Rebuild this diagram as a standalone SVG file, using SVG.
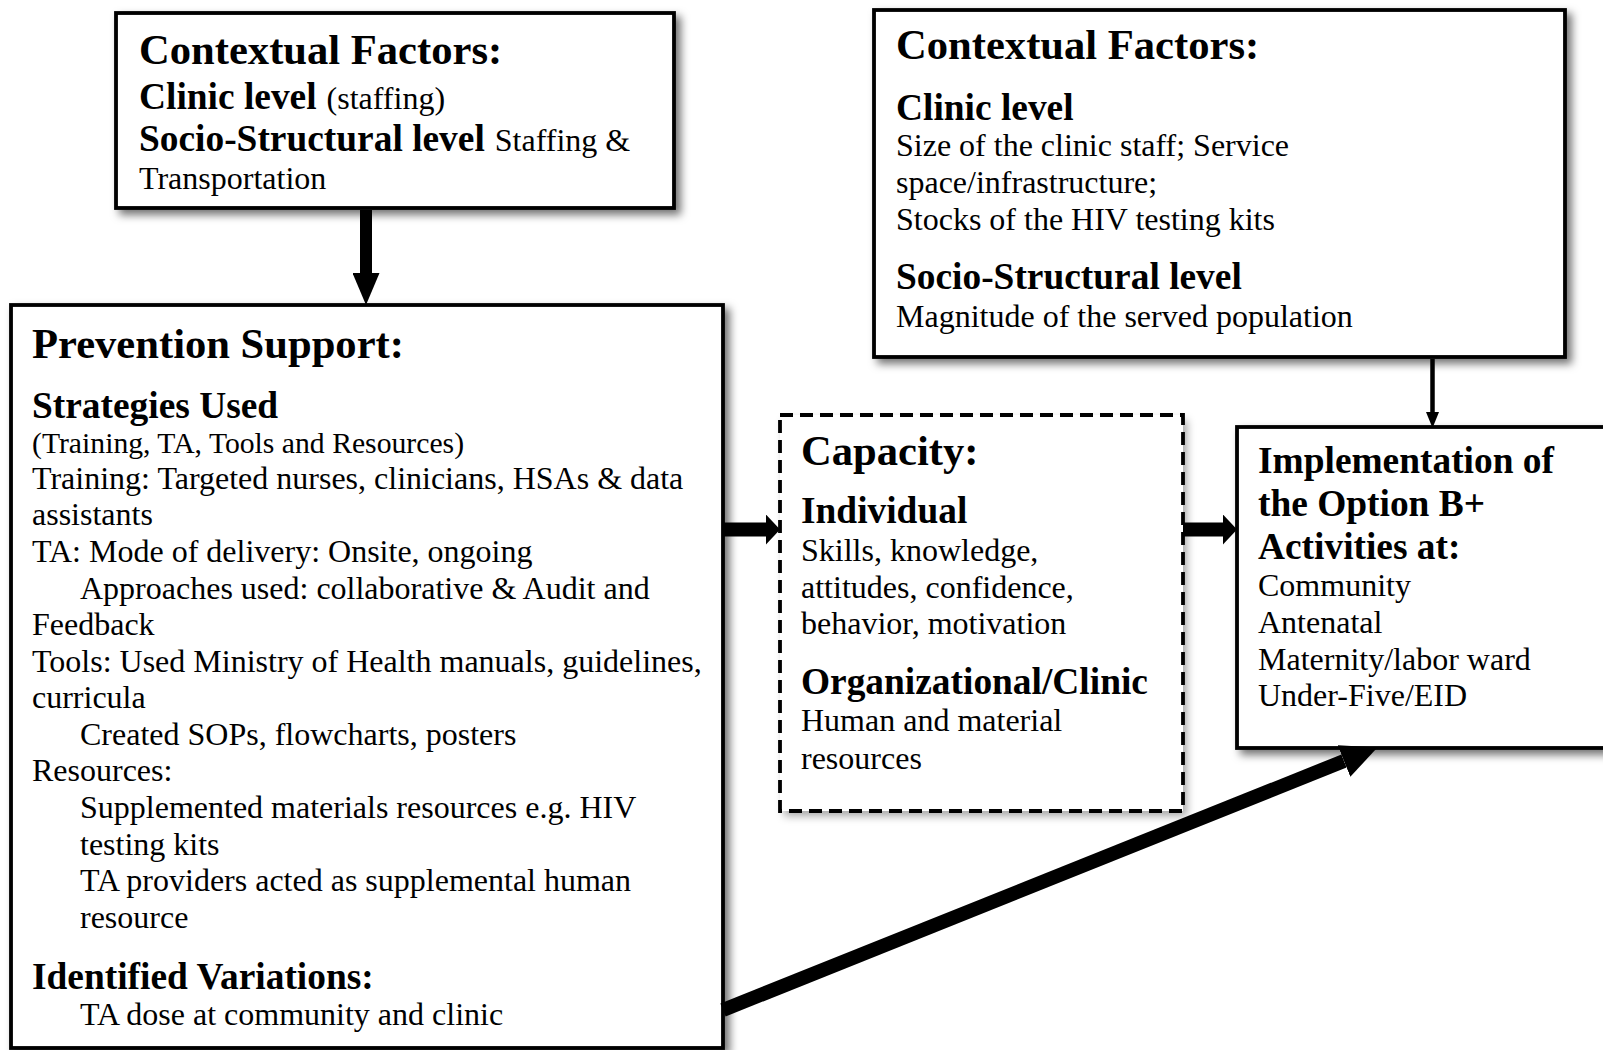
<svg xmlns="http://www.w3.org/2000/svg" width="1603" height="1050" viewBox="0 0 1603 1050">
  <style>
    text { font-family: "Liberation Serif", "Times New Roman", serif; fill: #000; }
    .h1 { font-size: 42.6px; font-weight: bold; }
    .h2 { font-size: 37.4px; font-weight: bold; }
    .b { font-size: 32px; }
    .s { font-size: 29.7px; }
    .box { fill: #fff; stroke: #000; stroke-width: 3.8; }
    .dash { fill: none; stroke: #000; stroke-width: 3.8; stroke-dasharray: 13 7; }
    .shade { fill: #fff; stroke: none; }
    .thick { stroke: #000; stroke-width: 14; fill: none; }
    .stem { stroke: #000; stroke-width: 12; fill: none; }
    .thin { stroke: #000; stroke-width: 4.5; fill: none; }
  </style>
  <defs>
    <filter id="shadow" x="-5%" y="-5%" width="112%" height="115%">
      <feDropShadow dx="5" dy="5" stdDeviation="4" flood-color="#000" flood-opacity="0.55"/>
    </filter>
    <filter id="shadowSoft" x="-5%" y="-5%" width="112%" height="115%">
      <feDropShadow dx="4" dy="5" stdDeviation="4" flood-color="#000" flood-opacity="0.35"/>
    </filter>
    <!-- arrowheads: the shaft ends at the head's base, the head reaches the target edge -->
    <marker id="headThick" markerUnits="userSpaceOnUse" markerWidth="14" markerHeight="30" refX="0" refY="15" orient="auto">
      <path d="M0,0 L14,15 L0,30 z" fill="#000"/>
    </marker>
    <marker id="headStem" markerUnits="userSpaceOnUse" markerWidth="32" markerHeight="27" refX="0" refY="13.5" orient="auto">
      <path d="M0,0 L32,13.5 L0,27 z" fill="#000"/>
    </marker>
    <marker id="headDiag" markerUnits="userSpaceOnUse" markerWidth="36" markerHeight="34" refX="0" refY="17" orient="auto">
      <path d="M0,0 L36,17 L0,34 z" fill="#000"/>
    </marker>
    <marker id="headThin" markerUnits="userSpaceOnUse" markerWidth="16" markerHeight="13" refX="0" refY="6.5" orient="auto">
      <path d="M0,0 L16,6.5 L0,13 z" fill="#000"/>
    </marker>
  </defs>

  <rect width="1603" height="1050" fill="#fff"/>

  <!-- Contextual factors feeding prevention support -->
  <g id="context-left">
    <rect class="box" x="116" y="13" width="558" height="195" filter="url(#shadow)"/>
    <text class="h1" x="139" y="64">Contextual Factors:</text>
    <text x="139" y="109"><tspan class="h2">Clinic level</tspan><tspan class="b" dx="10">(staffing)</tspan></text>
    <text x="139" y="151"><tspan class="h2">Socio-Structural level</tspan><tspan class="b" dx="10">Staffing &amp;</tspan></text>
    <text class="b" x="139" y="189">Transportation</text>
  </g>

  <!-- Contextual factors feeding implementation -->
  <g id="context-right">
    <rect class="box" x="874" y="10" width="691" height="347" filter="url(#shadow)"/>
    <text class="h1" x="896" y="59">Contextual Factors:</text>
    <text class="h2" x="896" y="120">Clinic level</text>
    <text class="b" x="896" y="156">Size of the clinic staff; Service</text>
    <text class="b" x="896" y="193">space/infrastructure;</text>
    <text class="b" x="896" y="230">Stocks of the HIV testing kits</text>
    <text class="h2" x="896" y="289">Socio-Structural level</text>
    <text class="b" x="896" y="327">Magnitude of the served population</text>
  </g>

  <!-- Prevention support -->
  <g id="prevention-support">
    <rect class="box" x="11" y="305" width="712" height="743" filter="url(#shadow)"/>
    <text class="h1" x="32" y="358">Prevention Support:</text>
    <text class="h2" x="32" y="418">Strategies Used</text>
    <text class="s" x="32" y="453">(Training, TA, Tools and Resources)</text>
    <text class="b" x="32" y="489">Training: Targeted nurses, clinicians, HSAs &amp; data</text>
    <text class="b" x="32" y="525">assistants</text>
    <text class="b" x="32" y="562">TA: Mode of delivery: Onsite, ongoing</text>
    <text class="b" x="80" y="599">Approaches used: collaborative &amp; Audit and</text>
    <text class="b" x="32" y="635">Feedback</text>
    <text class="b" x="32" y="672">Tools: Used Ministry of Health manuals, guidelines,</text>
    <text class="b" x="32" y="708">curricula</text>
    <text class="b" x="80" y="745">Created SOPs, flowcharts, posters</text>
    <text class="b" x="32" y="781">Resources:</text>
    <text class="b" x="80" y="818">Supplemented materials resources e.g. HIV</text>
    <text class="b" x="80" y="855">testing kits</text>
    <text class="b" x="80" y="891">TA providers acted as supplemental human</text>
    <text class="b" x="80" y="928">resource</text>
    <text class="h2" x="32" y="989">Identified Variations:</text>
    <text class="b" x="80" y="1025">TA dose at community and clinic</text>
  </g>

  <!-- Capacity -->
  <g id="capacity">
    <rect class="shade" x="780" y="415" width="403" height="396" filter="url(#shadowSoft)"/>
    <rect class="dash" x="780" y="415" width="403" height="396"/>
    <text class="h1" x="801" y="465">Capacity:</text>
    <text class="h2" x="801" y="523">Individual</text>
    <text class="b" x="801" y="561">Skills, knowledge,</text>
    <text class="b" x="801" y="598">attitudes, confidence,</text>
    <text class="b" x="801" y="634">behavior, motivation</text>
    <text class="h2" x="801" y="694">Organizational/Clinic</text>
    <text class="b" x="801" y="731">Human and material</text>
    <text class="b" x="801" y="769">resources</text>
  </g>

  <!-- Implementation -->
  <g id="implementation">
    <rect class="box" x="1237" y="427" width="380" height="321" filter="url(#shadow)"/>
    <text class="h2" x="1258" y="473">Implementation of</text>
    <text class="h2" x="1258" y="516">the Option B+</text>
    <text class="h2" x="1258" y="559">Activities at:</text>
    <text class="b" x="1258" y="596">Community</text>
    <text class="b" x="1258" y="633">Antenatal</text>
    <text class="b" x="1258" y="670">Maternity/labor ward</text>
    <text class="b" x="1258" y="706">Under-Five/EID</text>
  </g>

  <!-- Connectors -->
  <g id="connectors">
    <line class="stem" x1="366" y1="210" x2="366" y2="273" marker-end="url(#headStem)"/>
    <line class="thin" x1="1432.5" y1="359" x2="1432.5" y2="412" marker-end="url(#headThin)"/>
    <line class="thick" x1="723" y1="529.5" x2="766" y2="529.5" marker-end="url(#headThick)"/>
    <line class="thick" x1="1183" y1="529.5" x2="1223" y2="529.5" marker-end="url(#headThick)"/>
    <line class="thick" x1="723" y1="1010" x2="1344" y2="761" marker-end="url(#headDiag)"/>
  </g>
</svg>
